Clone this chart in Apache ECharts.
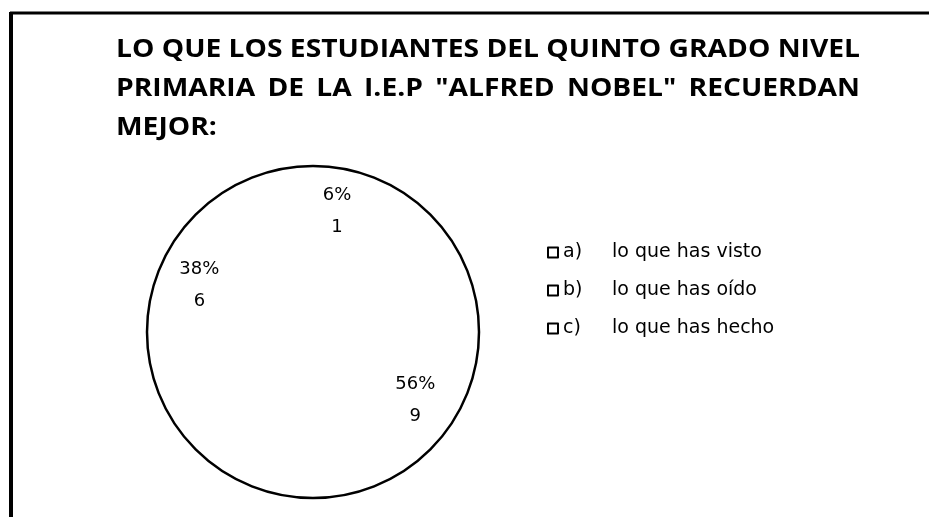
<!DOCTYPE html>
<html>
<head>
<meta charset="utf-8">
<script src="https://cdn.jsdelivr.net/npm/echarts@6/dist/echarts.min.js"></script>
<style>
  html, body { margin: 0; padding: 0; background: #fff; }
  #main_1 { width: 929px; height: 517px; }
</style>
</head>
<body>
<div id="main_1"></div>
<script>
// data
const titleLines = [
  "LO QUE LOS ESTUDIANTES DEL QUINTO GRADO NIVEL",
  "PRIMARIA DE LA I.E.P \"ALFRED NOBEL\" RECUERDAN",
  "MEJOR:"
];
const letters = ["a)", "b)", "c)"];
const names = ["lo que has visto", "lo que has oído", "lo que has hecho"];
const counts = [1, 6, 9];
const pieOrder = [0, 2, 1]; // clockwise from 12 o'clock as in the picture

const titleFont = "'Open Sans', sans-serif";
const font = "'DejaVu Sans', sans-serif";
const titleSize = 25;
const titleWidth = 744; // the original title box is stretched sideways

const chartDom = document.getElementById("main_1");
const myChart = echarts.init(chartDom, null, { renderer: "canvas" });

const ctx = document.createElement("canvas").getContext("2d");
ctx.font = "bold " + titleSize + "px 'Open Sans'";
const w1 = ctx.measureText(titleLines[0]).width;
const sx = titleWidth / w1;

// line 2 is justified to the width of line 1
function gapWidth(line) {
  const words = line.split(" ");
  let sum = 0;
  words.forEach(w => sum += ctx.measureText(w).width);
  return Math.max((w1 - sum) / (words.length - 1), 5);
}
function justified(line) {
  return line.split(" ").map(w => "{w|" + w + "}").join("{s|}");
}

const legendNames = letters.map((l, i) => l + "|" + names[i]);
const pieData = pieOrder.map(i => ({ name: legendNames[i], value: counts[i] }));

const tStyle = { fontFamily: titleFont, fontWeight: "bold", fontSize: titleSize, fill: "#000" };

const titleGraphics = titleLines.map((t, i) => ({
  type: "text",
  x: 116,
  y: 50 + i * 39,
  scaleX: sx,
  style: Object.assign({}, tStyle, {
    text: i === 1 ? justified(t) : t,
    verticalAlign: "middle",
    rich: {
      w: { fontFamily: titleFont, fontWeight: "bold", fontSize: titleSize, color: "#000" },
      s: { fontFamily: titleFont, fontSize: titleSize, width: gapWidth(t) }
    }
  })
}));

const option = {
  backgroundColor: "#fff",
  animation: false,
  legend: {
    orient: "vertical",
    left: 542,
    top: 238,
    itemWidth: 10,
    itemHeight: 10,
    itemGap: 19,
    icon: "rect",
    data: legendNames,
    itemStyle: { color: "#fff", borderColor: "#000", borderWidth: 2 },
    formatter: function (n) {
      const p = n.split("|");
      return "{a|" + p[0] + "}{b|" + p[1] + "}";
    },
    textStyle: {
      fontFamily: font,
      fontSize: 19,
      color: "#000",
      rich: {
        a: { fontFamily: font, fontSize: 19, width: 49, color: "#000" },
        b: { fontFamily: font, fontSize: 19, color: "#000" }
      }
    }
  },
  graphic: [
    { type: "line", shape: { x1: 10, y1: 13, x2: 929, y2: 13 }, style: { stroke: "#000", lineWidth: 3 } },
    { type: "line", shape: { x1: 11, y1: 12, x2: 11, y2: 517 }, style: { stroke: "#000", lineWidth: 4 } }
  ].concat(titleGraphics),
  series: [
    {
      type: "pie",
      silent: true,
      center: [313, 332],
      radius: 166,
      label: { show: false },
      labelLine: { show: false },
      itemStyle: { color: "#fff", borderColor: "#000", borderWidth: 2.5 },
      data: [{ name: "outline", value: 1 }],
      legendHoverLink: false
    },
    {
      type: "pie",
      center: [313, 332],
      radius: [76, 164],
      startAngle: 90,
      clockwise: true,
      itemStyle: { color: "#fff", borderWidth: 0 },
      label: {
        position: "inside",
        fontFamily: font,
        fontSize: 18,
        color: "#000",
        lineHeight: 32,
        formatter: function (p) { return Math.round(p.percent) + "%\n" + p.value; }
      },
      labelLine: { show: false },
      data: pieData
    }
  ]
};

myChart.setOption(option);
</script>
</body>
</html>
